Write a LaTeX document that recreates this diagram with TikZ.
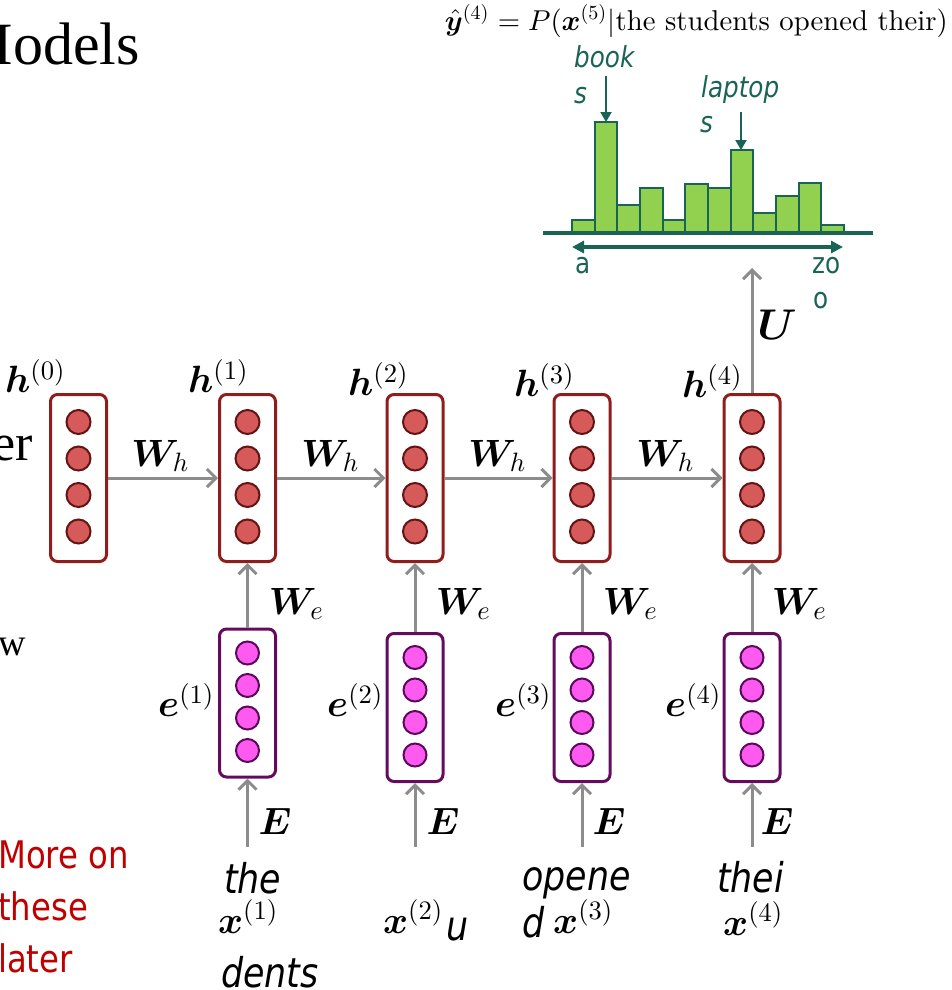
\documentclass[tikz,border=0pt]{standalone}
\usepackage{fontspec}
\usepackage{amsmath,bm,graphicx}
\usetikzlibrary{arrows.meta,calc}
\DeclareFontShape{OML}{cmm}{m}{it}{<->cmmi10}{}
\DeclareFontShape{OML}{cmm}{b}{it}{<->cmmib10}{}
\DeclareFontShape{OT1}{cmr}{m}{n}{<->cmr10}{}
\DeclareFontShape{OT1}{cmr}{bx}{n}{<->cmbx10}{}
\DeclareFontShape{OMS}{cmsy}{m}{n}{<->cmsy10}{}
\DeclareFontShape{OMS}{cmsy}{b}{n}{<->cmbsy10}{}
\DeclareFontShape{OMX}{cmex}{m}{n}{<->cmex10}{}
\newfontfamily\timesf{Liberation Serif}
\newfontfamily\sansf[FakeStretch=0.85]{DejaVu Sans}
\definecolor{hred}{RGB}{145,28,28}
\definecolor{hfill}{RGB}{214,90,90}
\definecolor{hdark}{RGB}{100,20,20}
\definecolor{epur}{RGB}{100,10,95}
\definecolor{efill}{RGB}{255,90,240}
\definecolor{edark}{RGB}{90,10,90}
\definecolor{arrgray}{RGB}{140,140,140}
\definecolor{tealc}{RGB}{25,100,85}
\definecolor{barfill}{RGB}{146,208,80}
\definecolor{redtxt}{RGB}{192,0,0}
\begin{document}
\begin{tikzpicture}[x=1pt,y=-1pt,
  hbox/.style={draw=hred,line width=3pt,rounded corners=7pt,minimum width=56pt,minimum height=167pt,inner sep=0pt},
  ebox/.style={draw=epur,line width=3pt,rounded corners=7pt,minimum width=56pt,minimum height=148pt,inner sep=0pt},
  hcirc/.style={circle,draw=hdark,fill=hfill,line width=2pt,minimum size=24pt,inner sep=0pt},
  ecirc/.style={circle,draw=edark,fill=efill,line width=2pt,minimum size=23pt,inner sep=0pt},
  arr/.style={draw=arrgray,line width=3pt,-{Straight Barb[length=9pt,width=18pt]}},
  mlab/.style={font=\fontsize{38}{42}\selectfont,inner sep=0pt},
  tlab/.style={font=\sansf\itshape\fontsize{29}{30}\selectfont,text=tealc,inner sep=0pt},
  tplain/.style={font=\sansf\fontsize{29}{30}\selectfont,text=tealc,inner sep=0pt},
  wlab/.style={font=\sansf\itshape\fontsize{41}{42}\selectfont,inner sep=0pt},
  rlab/.style={font=\sansf\fontsize{38}{40}\selectfont,text=redtxt,inner sep=0pt},
  slab/.style={font=\timesf,inner sep=0pt},
  bar/.style={draw=tealc,fill=barfill,line width=2pt},
  tealarr/.style={draw=tealc,line width=2pt,-{Triangle[length=10pt,width=11pt]}}
]
\useasboundingbox (0,0) rectangle (951,990);

% left slide text
\node[slab,font=\timesf\fontsize{60}{60}\selectfont,anchor=base east] (title) at (140,64) {Models};
\node[slab,font=\timesf\fontsize{52}{52}\selectfont,anchor=base east] (er) at (33,460) {er};
\node[slab,font=\timesf\fontsize{38}{38}\selectfont,anchor=base east] (w) at (26,655) {w};
\node[rlab,anchor=base west] (r1) at (-2,868) {More on};
\node[rlab,anchor=base west] (r2) at (-2,920) {these};
\node[rlab,anchor=base west] (r3) at (-2,972) {later};

% formula
\node[inner sep=0pt,anchor=east] (formula) at (948,21) {\resizebox{503pt}{!}{$\hat{\bm y}^{(4)} = P(\bm x^{(5)}|\text{the students opened their})$}};

% histogram
\foreach \x/\t [count=\i] in {572/220,594.7/122,617.3/204.7,640/187.7,662.7/220,685.3/184,708/187.7,730.7/150,753.3/212.7,776/196,798.7/183.3,821.3/225}{
  \draw[bar] (\x,233) rectangle ({\x+22.7},\t);
}
\draw[tealc,line width=4pt] (543,233) -- (873,233);
\coordinate (ha) at (572,247);
\coordinate (hz) at (843,247);
\draw[tealc,line width=3.5pt,{Triangle[length=12pt,width=12pt]}-{Triangle[length=12pt,width=12pt]}] (ha) -- (hz);
\node[tlab,anchor=base west] (book) at (574,67) {book};
\node[tlab,anchor=base west] (books) at (574,103) {s};
\coordinate (bookA) at (606,76);
\coordinate (bookB) at (606,122);
\draw[tealarr] (bookA) -- (bookB);
\node[tlab,anchor=base west] (lap) at (701,97) {laptop};
\node[tlab,anchor=base west] (laps) at (700,132) {s};
\coordinate (lapA) at (741,112);
\coordinate (lapB) at (741,150);
\draw[tealarr] (lapA) -- (lapB);
\node[tplain,anchor=base west] (ta) at (575,273) {a};
\node[tplain,anchor=base west] (tz) at (812,273) {zo};
\node[tplain,anchor=base west] (tz2) at (813,308) {o};

% hidden states
\foreach \n/\x in {0/78.5,1/247.5,2/415,3/582,4/752}{
  \node[hbox] (h\n) at (\x,478) {};
  \foreach \k/\y in {1/422,2/458.5,3/495,4/531.5}
    \node[hcirc] (h\n c\k) at (\x,\y) {};
}
% embeddings
\foreach \n/\x/\c in {1/247.5/703,2/415/707.5,3/582/707.5,4/752/707.5}{
  \node[ebox] (e\n) at (\x,\c) {};
  \foreach \k/\d in {1/-50,2/-17.5,3/15,4/47.5}
    \node[ecirc] (e\n c\k) at (\x,\c+\d) {};
  \coordinate (in\n) at (\x,847);
  \draw[arr] (in\n) -- (e\n.south);
  \draw[arr] (e\n.north) -- (h\n.south);
}
\draw[arr] (h0.east) -- (h1.west);
\draw[arr] (h1.east) -- (h2.west);
\draw[arr] (h2.east) -- (h3.west);
\draw[arr] (h3.east) -- (h4.west);
\coordinate (yout) at (752,268);
\draw[arr] (h4.north) -- (yout);

% math labels
\node[mlab] (lh0) at (35,376) {$\bm h^{(0)}$};
\node[mlab] (lh1) at (218,376) {$\bm h^{(1)}$};
\node[mlab] (lh2) at (378,379) {$\bm h^{(2)}$};
\node[mlab] (lh3) at (544,380) {$\bm h^{(3)}$};
\node[mlab] (lh4) at (712,381) {$\bm h^{(4)}$};
\node[mlab,font=\fontsize{43}{46}\selectfont] (lU) at (777,325) {$\bm U$};
\foreach \i/\x in {1/160,2/330,3/497,4/665}
  \node[mlab] (wh\i) at (\x,456) {$\bm W_h$};
\foreach \i/\x in {1/296,2/463,3/630,4/799}
  \node[mlab] (we\i) at (\x,604) {$\bm W_e$};
\foreach \i/\x in {1/275,2/443,3/609,4/777}
  \node[mlab] (E\i) at (\x,821) {$\bm E$};
\foreach \i/\x in {1/186,2/355,3/523,4/693}
  \node[mlab] (le\i) at (\x,700) {$\bm e^{(\i)}$};

% words
\node[wlab,anchor=base west] (w1) at (224,893) {the};
\node[mlab,anchor=base west] (x1) at (218,933) {$\bm x^{(1)}$};
\node[wlab,anchor=base west] (w1b) at (221,987) {dents};
\node[mlab,anchor=base west] (x2) at (383,933) {$\bm x^{(2)}$};
\node[wlab,anchor=base west] (w2) at (446,940) {u};
\node[wlab,anchor=base west] (w3) at (522,890) {opene};
\node[wlab,anchor=base west] (w3b) at (522,937) {d};
\node[mlab,anchor=base west] (x3) at (553,933) {$\bm x^{(3)}$};
\node[wlab,anchor=base west] (w4) at (717,892) {thei};
\node[mlab,anchor=base west] (x4) at (723,935) {$\bm x^{(4)}$};
\end{tikzpicture}
\end{document}
